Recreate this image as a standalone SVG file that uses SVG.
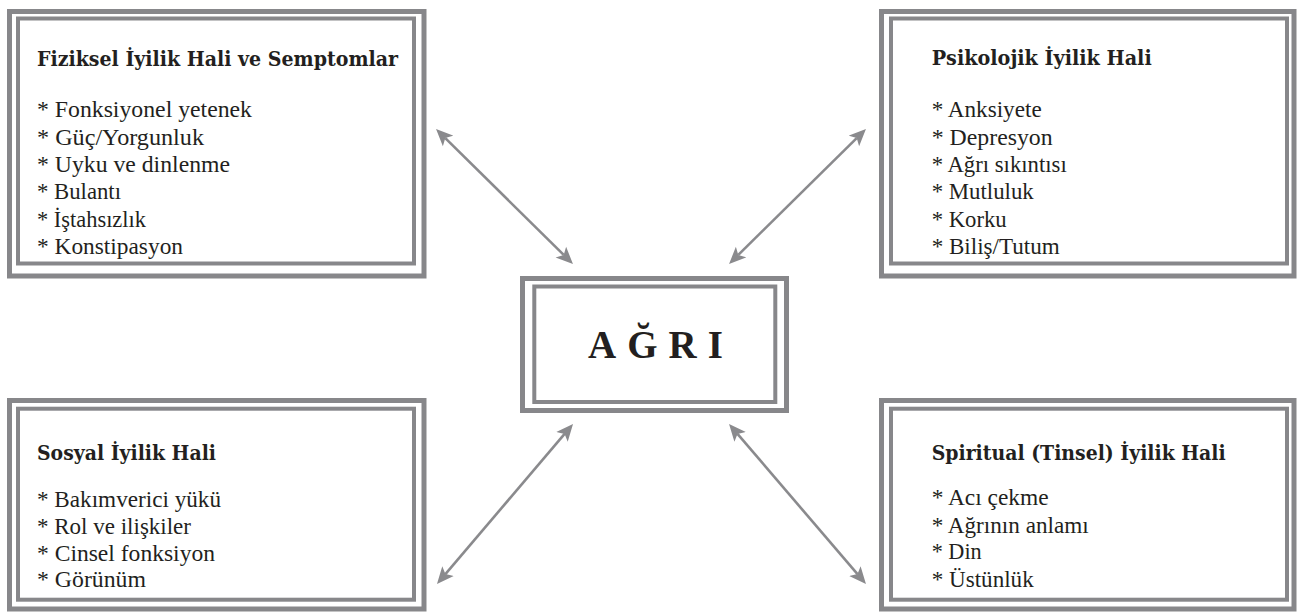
<svg xmlns="http://www.w3.org/2000/svg" width="1300" height="615" viewBox="0 0 1300 615">
<defs>
<style>
.outer{fill:none;stroke:#87878a;stroke-width:5}
.inner{fill:none;stroke:#87878a;stroke-width:4}
.title{font-family:"DejaVu Serif","Liberation Serif",serif;font-weight:bold;font-size:19.5px;fill:#231f20}
.item{font-family:"Liberation Serif","Times New Roman",serif;font-size:23.5px;fill:#231f20}
.center{font-family:"Liberation Serif","Times New Roman",serif;font-weight:bold;font-size:39px;fill:#231f20;letter-spacing:11px}
.conn{stroke:#8a8a8d;stroke-width:2.6;fill:none;marker-start:url(#ah);marker-end:url(#ah)}
</style>
<marker id="ah" viewBox="0 -8 18 16" refX="4" refY="0" markerWidth="18" markerHeight="16" markerUnits="userSpaceOnUse" orient="auto-start-reverse">
<path d="M17,0 L0,-7.5 L4,0 L0,7.5 Z" fill="#8a8a8d"/>
</marker>
</defs>
<rect width="1300" height="615" fill="#ffffff"/>

<g id="connectors">
<line class="conn" x1="445.3" y1="138.1" x2="563.7" y2="254.9"/>
<line class="conn" x1="856.7" y1="138.1" x2="738.3" y2="254.9"/>
<line class="conn" x1="564.6" y1="433.9" x2="445.4" y2="574.1"/>
<line class="conn" x1="737.5" y1="433.9" x2="857.5" y2="574.1"/>
</g>

<g id="fiziksel">
<rect class="outer" x="9.5" y="11.5" width="414.5" height="264.5"/>
<rect class="inner" x="18" y="18.5" width="396" height="245"/>
<text class="title" x="37" y="66" textLength="361" lengthAdjust="spacingAndGlyphs">Fiziksel İyilik Hali ve Semptomlar</text>
<text class="item" x="37" y="117.3" textLength="215" lengthAdjust="spacingAndGlyphs">* Fonksiyonel yetenek</text>
<text class="item" x="37" y="144.6" textLength="167" lengthAdjust="spacingAndGlyphs">* Güç/Yorgunluk</text>
<text class="item" x="37" y="171.9" textLength="193" lengthAdjust="spacingAndGlyphs">* Uyku ve dinlenme</text>
<text class="item" x="37" y="199.2" textLength="84" lengthAdjust="spacingAndGlyphs">* Bulantı</text>
<text class="item" x="37" y="226.5" textLength="109" lengthAdjust="spacingAndGlyphs">* İştahsızlık</text>
<text class="item" x="37" y="253.8" textLength="146" lengthAdjust="spacingAndGlyphs">* Konstipasyon</text>
</g>

<g id="psikolojik">
<rect class="outer" x="881.5" y="11.5" width="412.5" height="264.5"/>
<rect class="inner" x="891" y="18.5" width="396" height="245"/>
<text class="title" x="931.7" y="65" textLength="220" lengthAdjust="spacingAndGlyphs">Psikolojik İyilik Hali</text>
<text class="item" x="931.7" y="117.3" textLength="110" lengthAdjust="spacingAndGlyphs">* Anksiyete</text>
<text class="item" x="931.7" y="144.6" textLength="121" lengthAdjust="spacingAndGlyphs">* Depresyon</text>
<text class="item" x="931.7" y="171.9" textLength="135" lengthAdjust="spacingAndGlyphs">* Ağrı sıkıntısı</text>
<text class="item" x="931.7" y="199.2" textLength="102" lengthAdjust="spacingAndGlyphs">* Mutluluk</text>
<text class="item" x="931.7" y="226.5" textLength="75" lengthAdjust="spacingAndGlyphs">* Korku</text>
<text class="item" x="931.7" y="253.8" textLength="128" lengthAdjust="spacingAndGlyphs">* Biliş/Tutum</text>
</g>

<g id="agri">
<rect class="outer" x="522.5" y="278.5" width="264" height="132"/>
<rect class="inner" x="534.3" y="286.5" width="241" height="115.5"/>
<text class="center" x="588" y="358.3">AĞRI</text>
</g>

<g id="sosyal">
<rect class="outer" x="9.5" y="400.5" width="414.5" height="208.5"/>
<rect class="inner" x="18" y="408.7" width="396" height="191"/>
<text class="title" x="37" y="460" textLength="179" lengthAdjust="spacingAndGlyphs">Sosyal İyilik Hali</text>
<text class="item" x="37" y="507.3" textLength="184" lengthAdjust="spacingAndGlyphs">* Bakımverici yükü</text>
<text class="item" x="37" y="534" textLength="154" lengthAdjust="spacingAndGlyphs">* Rol ve ilişkiler</text>
<text class="item" x="37" y="560.7" textLength="178" lengthAdjust="spacingAndGlyphs">* Cinsel fonksiyon</text>
<text class="item" x="37" y="587.3" textLength="109" lengthAdjust="spacingAndGlyphs">* Görünüm</text>
</g>

<g id="spiritual">
<rect class="outer" x="881.5" y="400.5" width="412.5" height="208.5"/>
<rect class="inner" x="891" y="408.7" width="396" height="191"/>
<text class="title" x="931.7" y="460" textLength="294" lengthAdjust="spacingAndGlyphs">Spiritual (Tinsel) İyilik Hali</text>
<text class="item" x="931.7" y="505" textLength="117" lengthAdjust="spacingAndGlyphs">* Acı çekme</text>
<text class="item" x="931.7" y="532.7" textLength="157" lengthAdjust="spacingAndGlyphs">* Ağrının anlamı</text>
<text class="item" x="931.7" y="558.5" textLength="50" lengthAdjust="spacingAndGlyphs">* Din</text>
<text class="item" x="931.7" y="586.7" textLength="102" lengthAdjust="spacingAndGlyphs">* Üstünlük</text>
</g>
</svg>
